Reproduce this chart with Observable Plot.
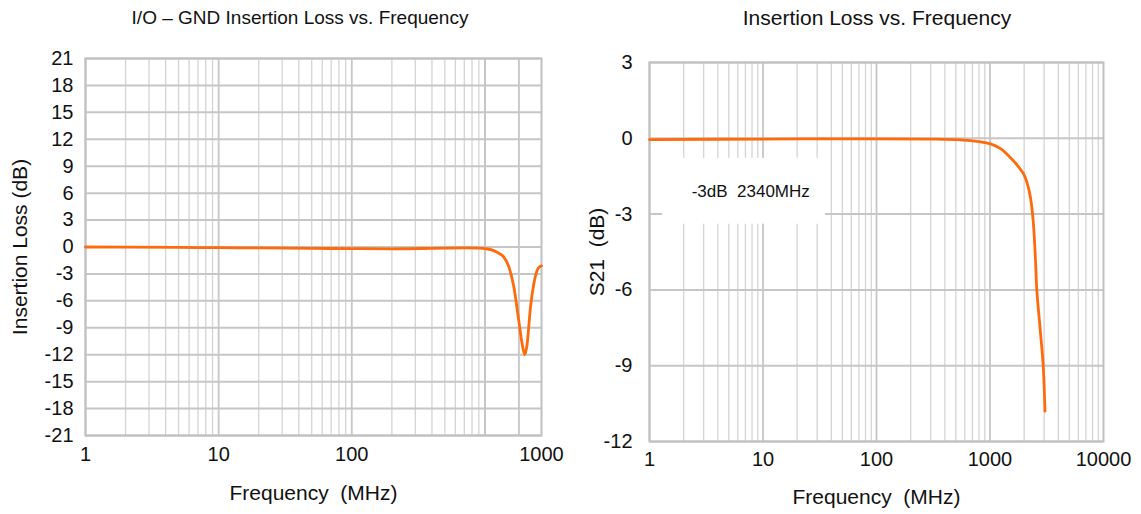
<!DOCTYPE html>
<html><head><meta charset="utf-8">
<script src="https://cdn.jsdelivr.net/npm/d3@7"></script>
<script src="https://cdn.jsdelivr.net/npm/@observablehq/plot@0.6"></script>
<style>
body{margin:0;background:#fff;font-family:"Liberation Sans",Arial,sans-serif;}
#wrap{position:relative;width:1141px;height:514px;overflow:hidden;background:#fff}
.panel{position:absolute;top:0}
.title{position:absolute;top:6px;line-height:24px;color:#111;white-space:nowrap;transform:translateX(-50%)}
</style></head><body><div id="wrap"></div>
<script>
// ---- Left chart: I/O - GND Insertion Loss vs. Frequency ----
const leftTitle = "I/O – GND Insertion Loss vs. Frequency";
const leftFreq = [1, 2, 5, 10, 20, 50, 100, 200, 400, 700, 900, 1000, 1164, 1270, 1384, 1520, 1647, 1796, 1904, 1993, 2076, 2198, 2330, 2469, 2580, 2660];
const leftLoss = [0, -0.02, -0.05, -0.08, -0.1, -0.15, -0.18, -0.2, -0.15, -0.1, -0.12, -0.18, -0.4, -0.7, -1.1, -2.3, -4.4, -8.2, -10.8, -12.0, -10.8, -6.7, -4.1, -2.6, -2.2, -2.1];
const leftXDomain = [1, 2660];
const leftXTickValues = [1, 10, 100, 2660];
const leftXTickLabels = ["1", "10", "100", "1000"];
const leftExtraGrid = [1000, 1800];
const leftYTicks = [21, 18, 15, 12, 9, 6, 3, 0, -3, -6, -9, -12, -15, -18, -21];
const leftXLabel = "Frequency  (MHz)";
const leftYLabel = "Insertion Loss (dB)";

// ---- Right chart: Insertion Loss vs. Frequency ----
const rightTitle = "Insertion Loss vs. Frequency";
const rightFreq = [1, 10, 100, 300, 550, 800, 1010, 1250, 1517, 1750, 1986, 2150, 2274, 2402, 2518, 2584, 2760, 2943, 3050];
const rightS21 = [-0.05, -0.03, -0.02, -0.03, -0.06, -0.13, -0.22, -0.42, -0.77, -1.08, -1.43, -1.85, -2.35, -3.27, -4.85, -6.0, -7.5, -9.0, -10.8];
const rightXDomain = [1, 10000];
const rightXTickValues = [1, 10, 100, 1000, 10000];
const rightXTickLabels = ["1", "10", "100", "1000", "10000"];
const rightExtraGrid = [];
const rightYTicks = [3, 0, -3, -6, -9, -12];
const rightXLabel = "Frequency  (MHz)";
const rightYLabel = "S21  (dB)";
const rightNote = [{text: "-3dB  2340MHz", x1: 1.3, x2: 35.6, y1: -0.79, y2: -3.4, x: 7.8, y: -2.09}];

function decadeGrid(maxFreq) {
  const major = [], minor = [];
  for (let e = 0; 10 ** e < maxFreq; e++) {
    major.push(10 ** e);
    for (let m = 2; m <= 9; m++) if (10 ** (e + 1) <= maxFreq) minor.push(m * 10 ** e);
  }
  return {major, minor};
}

function chart({freq, vals, xDomain, xTickValues, xTickLabels, extraGrid, yTicks, xLabel, yLabel, width, mL, mR, mT, mB, yPad, xPad, xLabDy, yLabDx, curve, extra}) {
  const data = freq.map((f, i) => ({f, v: vals[i]}));
  const g = decadeGrid(xDomain[1]);
  const ticks = xTickValues.map((t, i) => ({t, s: xTickLabels[i]}));
  return Plot.plot({
    width, height: 514,
    marginLeft: mL, marginRight: mR, marginTop: mT, marginBottom: mB,
    x: {type: "log", domain: xDomain, axis: null},
    y: {domain: [d3.min(yTicks), d3.max(yTicks)], axis: null},
    style: {fontFamily: "'Liberation Sans', Arial, sans-serif", fontSize: "20px", color: "#111", background: "transparent", overflow: "visible"},
    marks: [
      Plot.ruleX(g.minor, {stroke: "#d4d4d4", strokeWidth: 1.3}),
      Plot.ruleX(g.major.concat(extraGrid), {stroke: "#c6c6c6", strokeWidth: 1.8}),
      Plot.ruleY(yTicks, {stroke: "#c6c6c6", strokeWidth: 2}),
      ...(extra || []),
      Plot.frame({stroke: "#c0c0c0", strokeWidth: 2}),
      Plot.line(data, {x: "f", y: "v", stroke: "#ff6a0d", strokeWidth: 2.8, curve}),
      Plot.text(ticks, {x: "t", text: "s", frameAnchor: "bottom", lineAnchor: "top", textAnchor: "middle", dy: xPad, fontSize: 20, fill: "#111"}),
      Plot.axisY(yTicks, {tickSize: 0, tickPadding: yPad, tickFormat: d => String(d), label: null, fontSize: 20}),
      Plot.text([xLabel], {frameAnchor: "bottom", lineAnchor: "middle", textAnchor: "middle", dy: xLabDy, fontSize: 21, fill: "#111"}),
      Plot.text([yLabel], {frameAnchor: "left", lineAnchor: "middle", textAnchor: "middle", dx: yLabDx, rotate: -90, fontSize: 21, fill: "#111"})
    ]
  });
}

const wrap = document.getElementById("wrap");

const left = chart({
  freq: leftFreq, vals: leftLoss, xDomain: leftXDomain, xTickValues: leftXTickValues, xTickLabels: leftXTickLabels,
  extraGrid: leftExtraGrid, yTicks: leftYTicks,
  xLabel: leftXLabel, yLabel: leftYLabel, width: 570,
  mL: 85, mR: 29, mT: 58, mB: 79, yPad: 12, xPad: 11, xLabDy: 58, yLabDx: -65, curve: "monotone-x"
});
left.classList.add("panel"); left.style.left = "0px";
wrap.appendChild(left);

const right = chart({
  freq: rightFreq, vals: rightS21, xDomain: rightXDomain, xTickValues: rightXTickValues, xTickLabels: rightXTickLabels,
  extraGrid: rightExtraGrid, yTicks: rightYTicks,
  xLabel: rightXLabel, yLabel: rightYLabel, width: 571,
  mL: 79, mR: 38, mT: 62, mB: 73, yPad: 17, xPad: 10, xLabDy: 56, yLabDx: -52, curve: "catmull-rom",
  extra: [
    Plot.rect(rightNote, {x1: "x1", x2: "x2", y1: "y1", y2: "y2", fill: "#fff"}),
    Plot.text(rightNote, {x: "x", y: "y", text: "text", fontSize: 17, fill: "#111"})
  ]
});
right.classList.add("panel"); right.style.left = "570px";
wrap.appendChild(right);

for (const [t, cx, fs] of [[leftTitle, 300, 19], [rightTitle, 877, 21]]) {
  const d = document.createElement("div");
  d.className = "title"; d.textContent = t; d.style.left = cx + "px"; d.style.fontSize = fs + "px";
  wrap.appendChild(d);
}
</script></body></html>
